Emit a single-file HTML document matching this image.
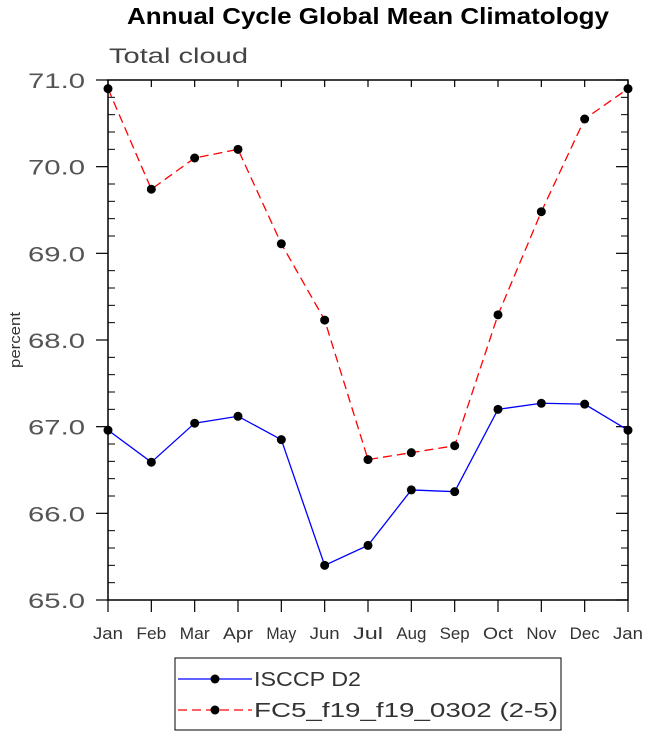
<!DOCTYPE html>
<html><head><meta charset="utf-8"><style>
body{margin:0;background:#fff;}
svg{display:block;font-family:"Liberation Sans",sans-serif;}
</style></head><body>
<svg id="chart" width="648" height="735" xmlns="http://www.w3.org/2000/svg">
<text x="127" y="24" font-size="23" font-weight="bold" fill="#000" textLength="482" lengthAdjust="spacingAndGlyphs">Annual Cycle Global Mean Climatology</text>
<text x="109" y="63" font-size="21" fill="#444" textLength="139" lengthAdjust="spacingAndGlyphs">Total cloud</text>
<text transform="translate(20,340) rotate(-90)" text-anchor="middle" font-size="15" fill="#333" textLength="56" lengthAdjust="spacingAndGlyphs">percent</text>
<g id="axes"></g>
<g id="series"></g>
<g>
<rect x="175" y="658" width="386" height="72" fill="#fff" stroke="#000" stroke-width="1"/>
<line x1="178" y1="679" x2="252" y2="679" stroke="#00f" stroke-width="1.3"/>
<circle cx="215" cy="679" r="4.5" fill="#000"/>
<text x="254" y="686" font-size="20" fill="#333" textLength="107" lengthAdjust="spacingAndGlyphs">ISCCP D2</text>
<line x1="178" y1="710" x2="252" y2="710" stroke="#f00" stroke-width="1.3" stroke-dasharray="9,5"/>
<circle cx="215" cy="710" r="4.5" fill="#000"/>
<text x="254" y="717" font-size="20" fill="#333" textLength="304" lengthAdjust="spacingAndGlyphs">FC5_f19_f19_0302 (2-5)</text>
</g>
</svg>
<script>
const months=["Jan","Feb","Mar","Apr","May","Jun","Jul","Aug","Sep","Oct","Nov","Dec","Jan"];
const yTicks=[65,66,67,68,69,70,71];
const yTickLabels=["65.0","66.0","67.0","68.0","69.0","70.0","71.0"];
const isccp=[66.96,66.59,67.04,67.12,66.85,65.40,65.63,66.27,66.25,67.20,67.27,67.26,66.96];
const fc5=[70.90,69.74,70.10,70.20,69.11,68.23,66.62,66.70,66.78,68.29,69.48,70.55,70.90];
const X0=108,X1=628,Y0=600,Y1=80,ymin=65,ymax=71;
const xs=i=>X0+(X1-X0)*i/(months.length-1);
const ys=v=>Y0-(v-ymin)/(ymax-ymin)*(Y0-Y1);
const NS="http://www.w3.org/2000/svg";
function mk(t,a,p){const e=document.createElementNS(NS,t);for(const k in a)e.setAttribute(k,a[k]);p.appendChild(e);return e;}
const ax=document.getElementById('axes');
const fr=mk('rect',{x:X0,y:Y1,width:X1-X0,height:Y0-Y1,fill:'none',stroke:'#000','stroke-width':1.5},ax);


months.forEach((m,i)=>{
 const x=xs(i);
 mk('line',{x1:x,y1:Y0,x2:x,y2:Y0+12,stroke:'#000','stroke-width':1.2},ax);
 mk('line',{x1:x,y1:Y1,x2:x,y2:Y1+7,stroke:'#000','stroke-width':1.2},ax);
 const t=mk('text',{x:x-15,y:639,'font-size':17,fill:'#333',textLength:30,lengthAdjust:'spacingAndGlyphs'},ax);
 t.textContent=m;
 
 
});
yTicks.forEach((v,i)=>{
 const y=ys(v);
 mk('line',{x1:X0-12,y1:y,x2:X0,y2:y,stroke:'#000','stroke-width':1.2},ax);
 mk('line',{x1:X1,y1:y,x2:X1-12,y2:y,stroke:'#000','stroke-width':1.2},ax);
 const t=mk('text',{x:28,y:y+8,'font-size':21,fill:'#555',textLength:57,lengthAdjust:'spacingAndGlyphs'},ax);
 t.textContent=yTickLabels[i];
 
 
 if(i<yTicks.length-1){for(let k=1;k<5;k++){const yy=ys(v+k*0.2);
  mk('line',{x1:X0,y1:yy,x2:X0+7,y2:yy,stroke:'#000','stroke-width':1},ax);
  mk('line',{x1:X1,y1:yy,x2:X1-7,y2:yy,stroke:'#000','stroke-width':1},ax);}}
});
const sg=document.getElementById('series');
function draw(vals,color,dash,name){
 const p=mk('polyline',{points:vals.map((v,i)=>xs(i)+','+ys(v)).join(' '),fill:'none',stroke:color,'stroke-width':1.3,'stroke-dasharray':dash},sg);
 
 
 vals.forEach((v,i)=>{const c=mk('circle',{cx:xs(i),cy:ys(v),r:4.5,fill:'#000'},sg);
  
  });
}
draw(fc5,'#f00','9,5','fc5');
draw(isccp,'#00f','none','isccp');
</script>
</body></html>
